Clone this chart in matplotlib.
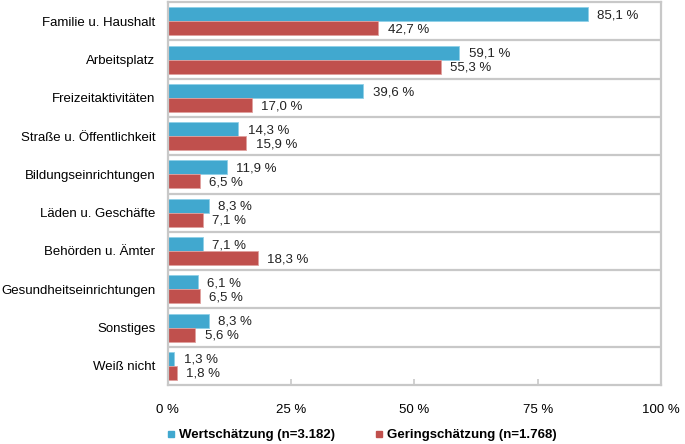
import numpy as np
import matplotlib.pyplot as plt
from matplotlib.lines import Line2D

plt.rcParams['font.family'] = ['Liberation Sans', 'DejaVu Sans']

categories = ['Familie u. Haushalt', 'Arbeitsplatz', 'Freizeitaktivitäten',
              'Straße u. Öffentlichkeit', 'Bildungseinrichtungen',
              'Läden u. Geschäfte', 'Behörden u. Ämter',
              'Gesundheitseinrichtungen', 'Sonstiges', 'Weiß nicht']
wert = [85.1, 59.1, 39.6, 14.3, 11.9, 8.3, 7.1, 6.1, 8.3, 1.3]
gering = [42.7, 55.3, 17.0, 15.9, 6.5, 7.1, 18.3, 6.5, 5.6, 1.8]
labels = ['Wertschätzung (n=3.182)', 'Geringschätzung (n=1.768)']
xticks = [0, 25, 50, 75, 100]

blue = '#41a8cf'
red = '#c0504d'
grey = '#c8c8c8'

fig = plt.figure(figsize=(6.85, 4.44), dpi=100)
ax = fig.add_axes([0.245, 0.133, 0.72, 0.862])

y = np.arange(len(categories))
h = 0.365
ax.barh(y - h / 2, wert, height=h, color=blue, edgecolor='#8fd0e8', linewidth=0.6)
ax.barh(y + h / 2, gering, height=h, color=red, edgecolor='#e0a09e', linewidth=0.6)

def fmt(v):
    return ('%.1f %%' % v).replace('.', ',')

for i in range(len(categories)):
    ax.text(wert[i] + 1.9, y[i] - h / 2 + 0.03, fmt(wert[i]), va='center', ha='left', fontsize=9.5, color='#222222')
    ax.text(gering[i] + 1.9, y[i] + h / 2 + 0.03, fmt(gering[i]), va='center', ha='left', fontsize=9.5, color='#222222')

for i in range(len(categories) - 1):
    ax.axhline(i + 0.5, color=grey, lw=1.6)

ax.set_ylim(len(categories) - 0.5, -0.5)
ax.set_xlim(0, 100)
ax.set_yticks(y)
ax.set_yticklabels(categories, fontsize=9.5)
ax.set_xticks(xticks)
ax.set_xticklabels(['%d %%' % t for t in xticks], fontsize=9.5)
ax.tick_params(axis='y', length=0, pad=9)
ax.tick_params(axis='x', direction='in', length=4, color=grey, width=1.2, pad=14)
for s in ax.spines.values():
    s.set_color(grey)
    s.set_linewidth(1.6)

handles = [Line2D([], [], marker='s', ls='', color=blue, markersize=5),
           Line2D([], [], marker='s', ls='', color=red, markersize=5)]
fig.legend(handles, labels, loc='center', bbox_to_anchor=(0.528, 0.02), ncol=2,
           frameon=False, handlelength=0.6, handletextpad=0.3, columnspacing=3.0,
           borderpad=0, prop={'weight': 'bold', 'size': 9.5})

fig.savefig('out.png', dpi=100)
